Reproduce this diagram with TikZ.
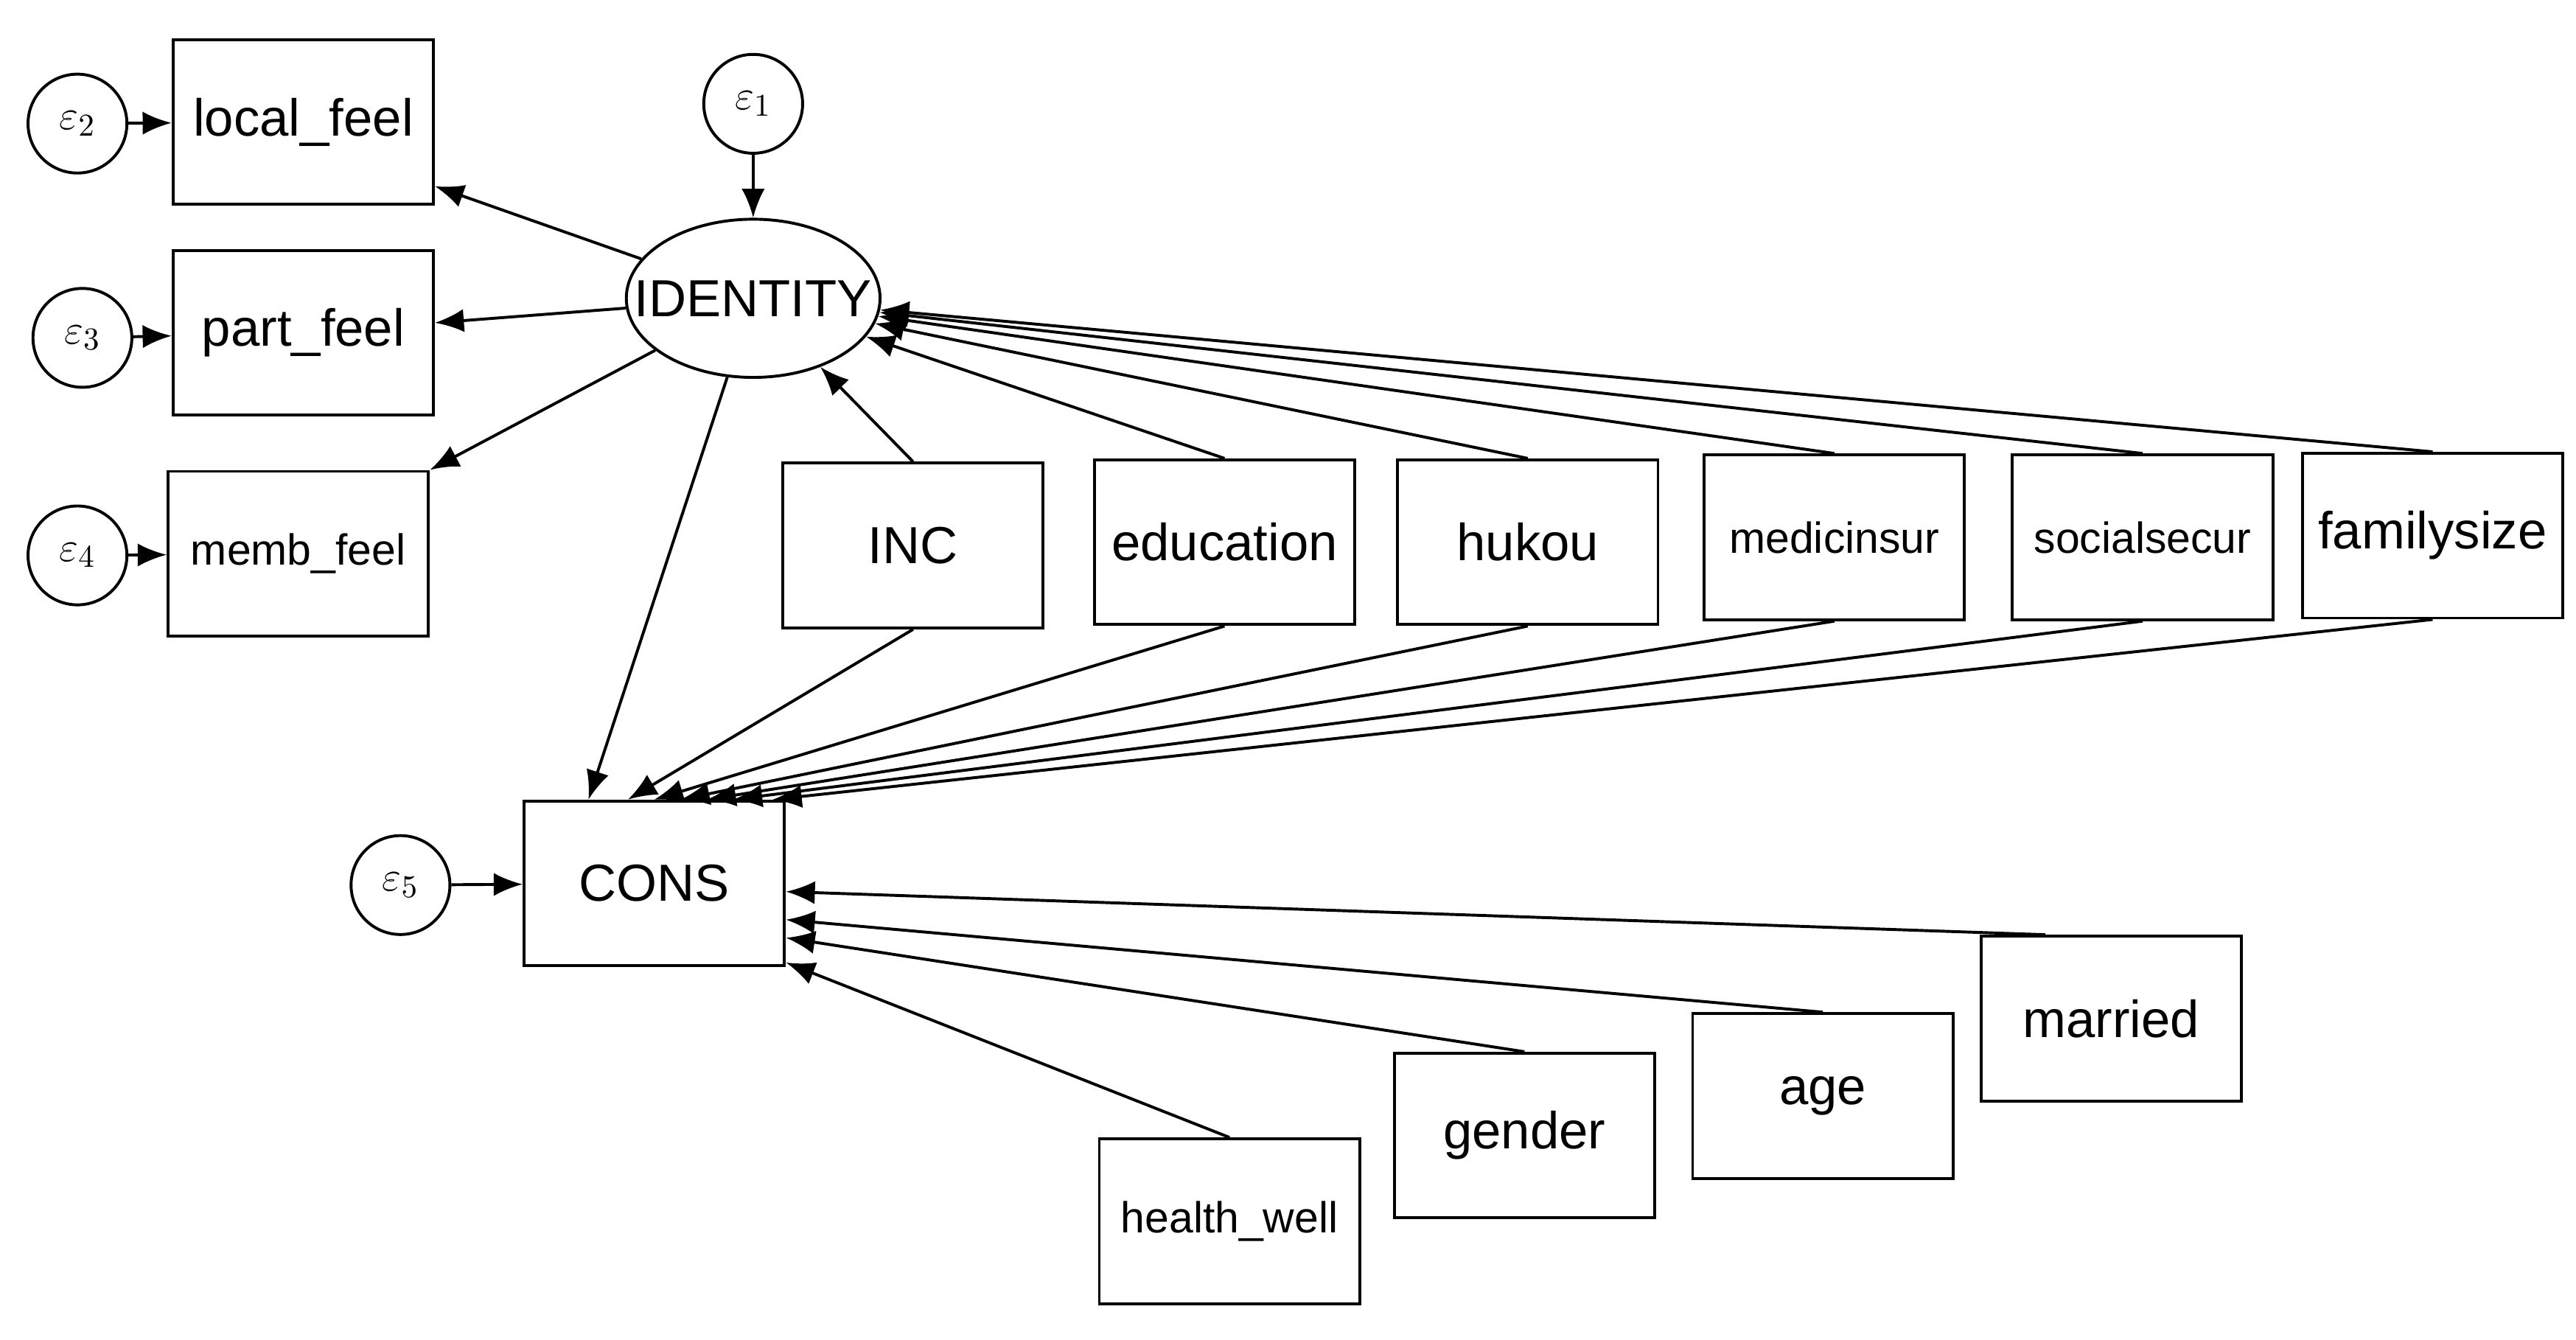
\documentclass[tikz,border=0pt]{standalone}
\usepackage{fontspec}
\setmainfont{Liberation Sans}
\usetikzlibrary{shapes.geometric,calc,arrows.meta}
\begin{document}
\begin{tikzpicture}[x=0.02cm,y=-0.02cm,
 box/.style={draw,line width=1pt,minimum width=3.16cm,minimum height=2cm,inner sep=0pt,font=\fontsize{18}{20}\selectfont},
 sbox/.style={box,font=\fontsize{15}{18}\selectfont},
 err/.style={draw,circle,line width=1pt,minimum size=1.2cm,inner sep=0pt,font=\fontsize{15}{18}\selectfont},
 lat/.style={draw,ellipse,line width=1pt,minimum width=3.08cm,minimum height=1.92cm,inner xsep=-0.45cm,inner ysep=0pt,font=\fontsize{18}{20}\selectfont},
 arr/.style={-{Latex[length=10pt,width=8pt]},line width=1pt}]
\useasboundingbox (0,0) rectangle (1563,813);
\node[lat] (id) at (457,181) {IDENTITY};
\node[err] (e1) at (457,63) {$\varepsilon_1$};
\node[box] (lf) at (184,74) {local\_feel};
\node[box] (pf) at (184,202) {part\_feel};
\node[sbox] (mf) at (181,336) {memb\_feel};
\node[err] (e2) at (47,75) {$\varepsilon_2$};
\node[err] (e3) at (50,205) {$\varepsilon_3$};
\node[err] (e4) at (47,337) {$\varepsilon_4$};
\node[box] (inc) at (554,331) {INC};
\node[box] (edu) at (743,329) {education};
\node[box] (huk) at (927,329) {hukou};
\node[sbox] (med) at (1113,326) {medicinsur};
\node[sbox] (soc) at (1300,326) {socialsecur};
\node[box] (fam) at (1476,325) {familysize};
\node[box] (cons) at (397,536) {CONS};
\node[err] (e5) at (243,537) {$\varepsilon_5$};
\node[box] (mar) at (1281,618) {married};
\node[box] (age) at (1106,665) {age};
\node[box] (gen) at (925,689) {gender};
\node[sbox] (hw) at (746,741) {health\_well};
% errors
\draw[arr] (e1) -- (id);
\draw[arr] (e2) -- (lf);
\draw[arr] (e3) -- (pf);
\draw[arr] (e4) -- (mf);
\draw[arr] (e5) -- (cons);
% identity to indicators
\draw[arr] (id) -- (lf.east |- 0,113);
\draw[arr] (id) -- (pf);
\draw[arr] (id) -- (mf.north east);
\draw[arr] (id) -- ($(cons.north west)!0.25!(cons.north east)$);
% to identity
\draw[arr] (inc.north) -- (id);
\draw[arr] (edu.north) -- (id);
\draw[arr] (huk.north) -- (id);
\draw[arr] (med.north) -- (id);
\draw[arr] (soc.north) -- (id);
\draw[arr] (fam.north) -- (id);
% to cons top
\draw[arr] (inc.south) -- ($(cons.north west)!0.4!(cons.north east)$);
\draw[arr] (edu.south) -- ($(cons.north west)!0.5!(cons.north east)$);
\draw[arr] (huk.south) -- ($(cons.north west)!0.6!(cons.north east)$);
\draw[arr] (med.south) -- ($(cons.north west)!0.7!(cons.north east)$);
\draw[arr] (soc.south) -- ($(cons.north west)!0.8!(cons.north east)$);
\draw[arr] (fam.south) -- ($(cons.north west)!0.95!(cons.north east)$);
% to cons right
\draw[arr] ($(mar.north west)!0.5!(mar.north)$) -- ($(cons.east)+(0,5)$);
\draw[arr] (age.north) -- ($(cons.east)+(0,22)$);
\draw[arr] (gen.north) -- ($(cons.east)+(0,33)$);
\draw[arr] (hw.north) -- ($(cons.east)+(0,48)$);
\end{tikzpicture}
\end{document}
